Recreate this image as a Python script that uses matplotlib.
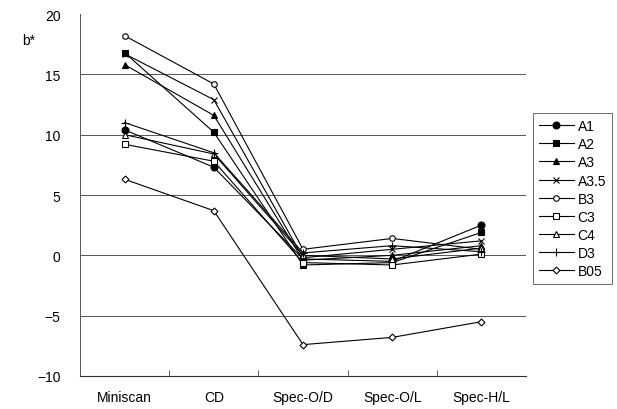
import matplotlib
matplotlib.use("Agg")
import matplotlib.pyplot as plt

plt.rcParams['font.family'] = ['Liberation Sans', 'DejaVu Sans']

categories = ["Miniscan", "CD", "Spec-O/D", "Spec-O/L", "Spec-H/L"]
A1 = [10.4, 7.3, -0.3, -0.5, 2.5]
A2 = [16.8, 10.2, -0.8, -0.6, 1.9]
A3 = [15.8, 11.6, -0.4, 0.0, 0.8]
A35 = [16.7, 12.9, -0.2, 0.5, 1.2]
B3 = [18.2, 14.2, 0.5, 1.4, 0.5]
C3 = [9.2, 7.8, -0.6, -0.8, 0.1]
C4 = [10.0, 8.4, 0.0, -0.3, 0.6]
D3 = [11.0, 8.5, 0.2, 0.8, 0.3]
B05 = [6.3, 3.7, -7.4, -6.8, -5.5]

series = [
    ("A1", A1, dict(marker='o', mfc='black', ms=5)),
    ("A2", A2, dict(marker='s', mfc='black', ms=5)),
    ("A3", A3, dict(marker='^', mfc='black', ms=5)),
    ("A3.5", A35, dict(marker='x', mfc='black', ms=5)),
    ("B3", B3, dict(marker='o', mfc='white', ms=4)),
    ("C3", C3, dict(marker='s', mfc='white', ms=4)),
    ("C4", C4, dict(marker='^', mfc='white', ms=4)),
    ("D3", D3, dict(marker='+', mfc='black', ms=6)),
    ("B05", B05, dict(marker='D', mfc='white', ms=3.5)),
]

fig = plt.figure(figsize=(6.17, 4.10), dpi=100)
ax = fig.add_axes([0.1297, 0.0805, 0.7228, 0.8829])

x = list(range(len(categories)))
for name, vals, st in series:
    ax.plot(x, vals, color='black', lw=0.8, mec='black', mew=0.8, label=name, **st)

ax.set_xlim(-0.5, len(categories) - 0.5)
ax.set_ylim(-10, 20)
ax.set_yticks([-10, -5, 0, 5, 10, 15, 20])
ax.set_yticklabels(["\u221210", "\u22125", "0", "5", "10", "15", "20"])
for yv in [-5, 0, 5, 10, 15]:
    ax.axhline(yv, color='#555555', lw=0.7, zorder=0)

ax.set_xticks(x)
ax.set_xticklabels(categories)
ax.set_xticks([i + 0.5 for i in range(len(categories) - 1)], minor=True)
ax.tick_params(axis='x', which='major', length=0, pad=10, labelsize=10)
ax.tick_params(axis='x', which='minor', length=4, direction='in', color='#444444')
ax.tick_params(axis='y', length=0, pad=14, labelsize=10)

for side in ['top', 'right']:
    ax.spines[side].set_visible(False)
ax.spines['left'].set_linestyle((0, (1, 1)))
ax.spines['left'].set_linewidth(0.7)
ax.spines['left'].set_color('#555555')
ax.spines['bottom'].set_linewidth(0.8)
ax.spines['bottom'].set_color('#333333')

fig.text(0.036, 0.90, "b*", fontsize=10, ha='left', va='center')

leg = fig.legend(loc='center left', bbox_to_anchor=(0.853, 0.513), frameon=True,
                 fancybox=False, edgecolor='#444444', fontsize=10,
                 handlelength=2.5, labelspacing=0.3, borderpad=0.4,
                 handletextpad=0.3)
leg.get_frame().set_linewidth(0.7)

fig.savefig("out.png", dpi=100)
